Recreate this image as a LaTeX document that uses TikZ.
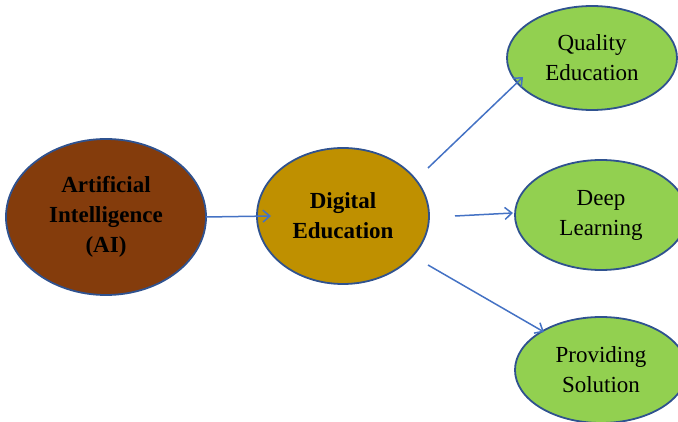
\documentclass[tikz,border=0pt]{standalone}
\usepackage{fontspec}
\setmainfont{Liberation Serif}
\usetikzlibrary{arrows.meta,shapes.geometric}
\definecolor{aibrown}{HTML}{843C0C}
\definecolor{degold}{HTML}{BF9000}
\definecolor{lgreen}{HTML}{92D050}
\definecolor{edgeblue}{HTML}{2F528F}
\definecolor{arrblue}{HTML}{4472C4}
\begin{document}
\begin{tikzpicture}[x=1pt,y=-1pt,
  ell/.style={ellipse, draw=edgeblue, line width=1.8pt, inner sep=0pt, align=center,
    font=\fontsize{23}{30}\selectfont},
  boldell/.style={ell, font=\fontsize{23}{30}\selectfont\bfseries},
  conn/.style={draw=arrblue, line width=1.5pt, -{Straight Barb[length=7pt,width=12pt]}}]
\useasboundingbox (0,0) rectangle (678,422);
\node[boldell, fill=aibrown, minimum width=200pt, minimum height=156pt] (ai) at (106,217) {Artificial\\Intelligence\\(AI)};
\node[boldell, fill=degold, minimum width=172pt, minimum height=136pt] (de) at (343,216) {Digital\\Education};
\node[ell, fill=lgreen, minimum width=170pt, minimum height=104pt] (qe) at (592,58) {Quality\\Education};
\node[ell, fill=lgreen, minimum width=172pt, minimum height=110pt] (dl) at (601,215) {Deep\\Learning};
\node[ell, fill=lgreen, minimum width=172pt, minimum height=106pt] (ps) at (601,370) {Providing\\Solution};
\coordinate (a1) at (206,217);
\coordinate (a2) at (271,216);
\coordinate (b1) at (428,168);
\coordinate (b2) at (523,77);
\coordinate (c1) at (455,216);
\coordinate (c2) at (513,213);
\coordinate (d1) at (428,265);
\coordinate (d2) at (544,332);
\draw[conn] (a1) -- (a2);
\draw[conn] (b1) -- (b2);
\draw[conn] (c1) -- (c2);
\draw[conn] (d1) -- (d2);
\end{tikzpicture}
\end{document}
